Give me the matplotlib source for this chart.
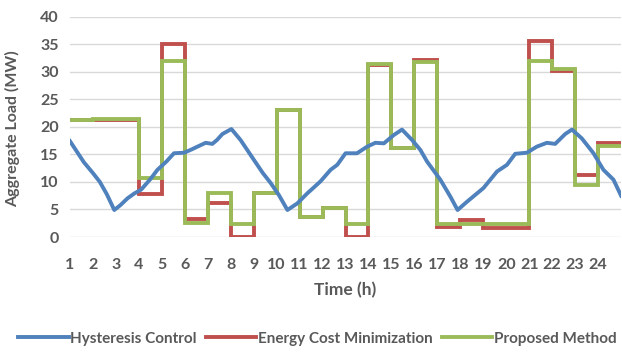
import numpy as np
import matplotlib
matplotlib.use('Agg')
import matplotlib.pyplot as plt

# hysteresis control (blue), traced points (hour, MW)
hyst_t = [1.0, 1.3, 1.6, 2.0, 2.3, 2.6, 2.93, 3.2, 3.5, 3.8, 4.1, 4.5, 4.81, 5.2,
          5.53, 5.97, 6.3, 6.55, 6.91, 7.2, 7.4, 7.64, 8.03, 8.43, 9.01, 9.4,
          9.74, 10.1, 10.47, 10.9, 11.33, 11.91, 12.35, 12.64, 13.0, 13.5, 13.94,
          14.3, 14.67, 15.1, 15.46, 15.9, 16.26, 16.55, 17.13, 17.57, 17.88,
          18.29, 19.01, 19.6, 20.03, 20.39, 20.9, 21.33, 21.77, 22.13, 22.57,
          22.86, 23.29, 23.8, 24.23, 24.67, 25.0]
hyst_v = [17.4, 15.5, 13.6, 11.6, 10.0, 7.8, 4.9, 5.8, 7.0, 7.9, 8.6, 10.5, 12.2, 13.7,
          15.2, 15.3, 15.9, 16.4, 17.1, 16.9, 17.6, 18.7, 19.6, 17.6, 14.0, 11.6,
          9.8, 7.6, 4.9, 6.1, 7.9, 10.1, 12.2, 13.1, 15.2, 15.2, 16.4,
          17.1, 17.0, 18.5, 19.5, 17.6, 15.8, 13.7, 10.4, 7.3, 4.9,
          6.4, 8.9, 11.9, 13.1, 15.1, 15.3, 16.4, 17.1, 16.9, 18.7,
          19.5, 17.9, 15.2, 12.2, 10.4, 7.5]

hours = list(range(1, 26))
# hourly values, hour 1..24
cost_min = [21.3, 21.2, 21.2, 7.8, 35.0, 3.3, 6.1, 0.0, 8.0, 23.0, 3.7, 5.3,
            0.0, 31.2, 16.1, 32.2, 1.9, 3.1, 1.6, 1.6, 35.6, 30.2, 11.3, 17.0]
proposed = [21.3, 21.5, 21.5, 10.7, 32.0, 2.5, 7.9, 2.4, 8.0, 23.0, 3.7, 5.3,
            2.4, 31.4, 16.2, 31.8, 2.3, 2.3, 2.3, 2.3, 32.0, 30.5, 9.5, 16.5]

blue = '#4F81BD'
red = '#C0504D'
green = '#9BBB59'
txt = '#595959'

plt.rcParams['font.family'] = ['Lato', 'DejaVu Sans']
plt.rcParams['font.weight'] = 'bold'

fig = plt.figure(figsize=(6.22, 3.54), dpi=100)
ax = fig.add_axes([0.1125, 0.3305, 0.886, 0.6225])

ax.plot(hyst_t, hyst_v, color=blue, lw=2.8, label='Hysteresis Control')
ax.stairs(cost_min, hours, color=red, lw=2.8, baseline=None, label='Energy Cost Minimization')
ax.stairs(proposed, hours, color=green, lw=2.8, baseline=None, label='Proposed Method')

ax.set_xlim(1, 25)
ax.set_ylim(0, 40)
ax.set_yticks(range(0, 41, 5))
ax.set_xticks(range(1, 25))
ax.grid(axis='y', color='#d9d9d9', lw=1)
ax.set_axisbelow(True)
for s in ax.spines.values():
    s.set_visible(False)
ax.tick_params(length=0, labelsize=11.5, colors=txt, pad=8)
ax.tick_params(axis='x', pad=15)
ax.set_xlabel('Time (h)', fontsize=12.5, color=txt, fontweight='bold', labelpad=7)
ax.set_ylabel('Aggregate Load (MW)', fontsize=11.5, color=txt, fontweight='bold')
ax.yaxis.set_label_coords(-0.09, 0.49)

fig.legend(loc='lower center', bbox_to_anchor=(0.51, -0.015), ncol=3, frameon=False,
           fontsize=11, handlelength=3.3, handletextpad=0.1, columnspacing=0.6,
           labelcolor=txt)

fig.savefig('out.png', dpi=100)
